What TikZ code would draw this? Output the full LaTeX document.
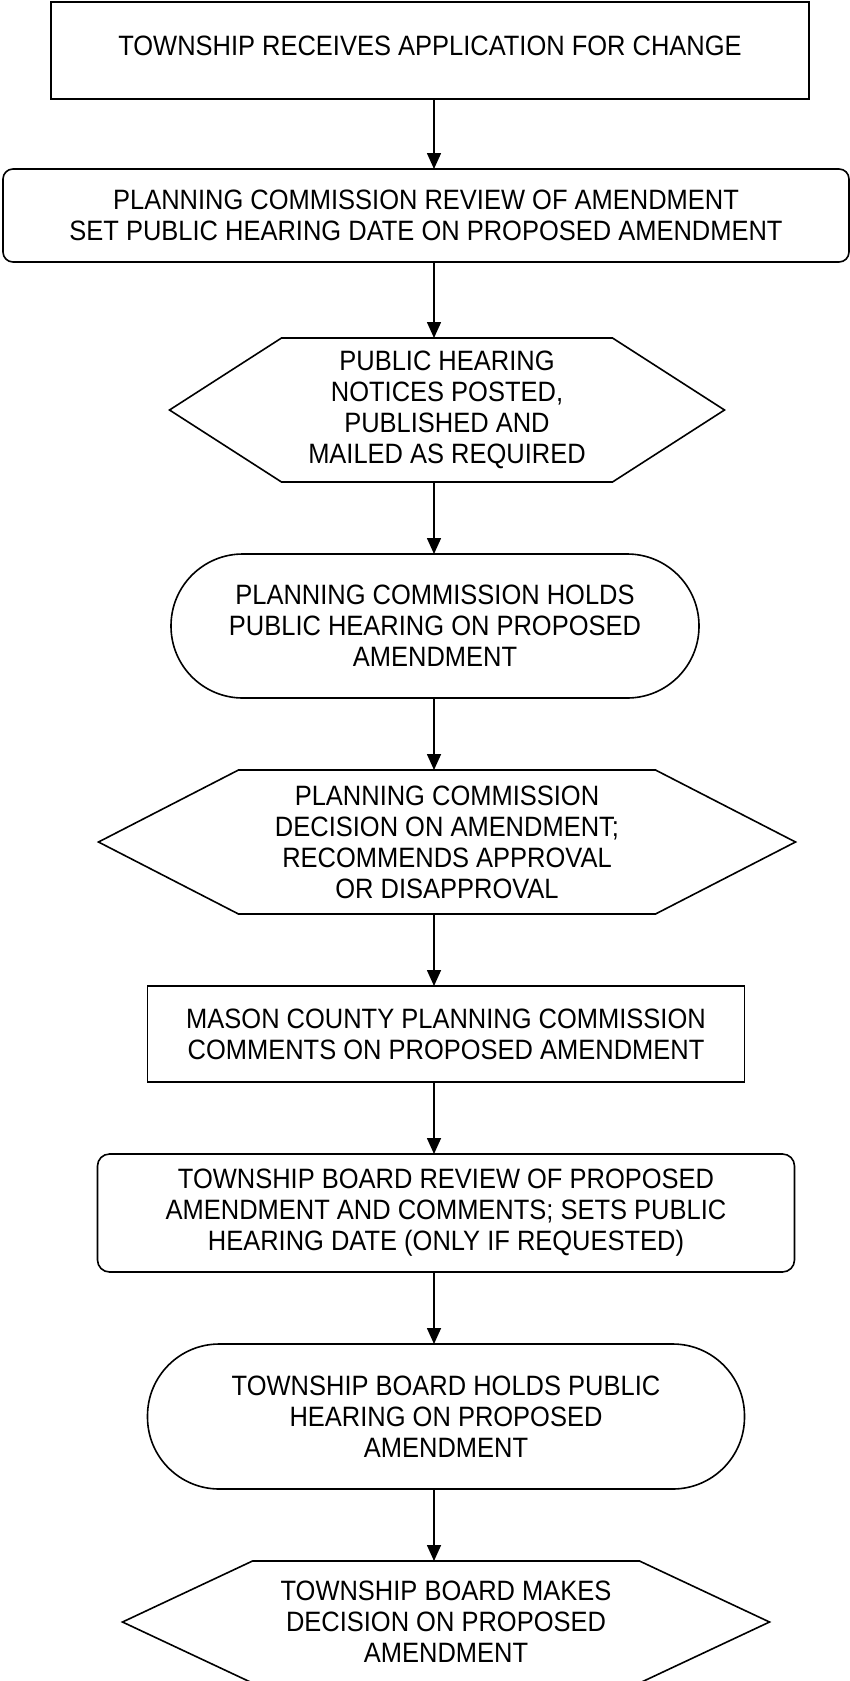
\documentclass[tikz,border=0pt]{standalone}
\usepackage{fontspec}
\setmainfont{Liberation Sans}[FakeStretch=0.91]
\usetikzlibrary{positioning,arrows.meta}

\begin{document}
\begin{tikzpicture}[
        every node/.style={align=center,outer sep=0pt,font=\fontsize{14}{15.5}\selectfont},
        box/.style={draw,line width=0.8pt},
        rbox/.style={box,rounded corners=5pt},
        stad/.style={box,rounded corners=35.9pt},
        hexa/.style={inner sep=0pt},
        arr/.style={line width=0.8pt,-{Triangle[length=8pt,width=7pt]}}]
        \useasboundingbox (0,0) rectangle (425pt,-840.5pt);
        \coordinate (spine) at (217pt,0);
        \node[box,minimum width=379pt,minimum height=48.5pt,text depth=4.5pt]
        (s0) at (215pt,-25.25pt) {TOWNSHIP RECEIVES APPLICATION FOR CHANGE};
        \node[rbox,minimum width=423pt,minimum height=46.5pt,below=35pt of s0,xshift=-2pt]
        (s1) {PLANNING COMMISSION REVIEW OF AMENDMENT\\SET PUBLIC HEARING DATE ON PROPOSED AMENDMENT};
        \node[hexa,minimum width=165.5pt,minimum height=72pt,below=38pt of s1,xshift=10.5pt]
        (s2) {PUBLIC HEARING\\NOTICES POSTED,\\PUBLISHED AND\\MAILED AS REQUIRED};
        \node[stad,minimum width=264pt,minimum height=72pt,below=36pt of s2,xshift=-6pt]
        (s3) {PLANNING COMMISSION HOLDS\\PUBLIC HEARING ON PROPOSED\\AMENDMENT};
        \node[hexa,minimum width=208.5pt,minimum height=72pt,below=36pt of s3,xshift=6pt]
        (s4) {PLANNING COMMISSION\\DECISION ON AMENDMENT;\\RECOMMENDS APPROVAL\\OR DISAPPROVAL};
        \node[box,minimum width=298.5pt,minimum height=48pt,below=36pt of s4,xshift=-0.5pt]
        (s5) {MASON COUNTY PLANNING COMMISSION\\COMMENTS ON PROPOSED AMENDMENT};
        \node[rbox,rounded corners=6pt,minimum width=348.5pt,minimum height=59pt,below=36pt of s5]
        (s6) {TOWNSHIP BOARD REVIEW OF PROPOSED\\AMENDMENT AND COMMENTS; SETS PUBLIC\\HEARING DATE (ONLY IF REQUESTED)};
        \node[stad,minimum width=298.5pt,minimum height=72.5pt,below=36pt of s6]
        (s7) {TOWNSHIP BOARD HOLDS PUBLIC\\HEARING ON PROPOSED\\AMENDMENT};
        \node[hexa,minimum width=193.5pt,minimum height=61pt,below=36pt of s7]
        (s8) {TOWNSHIP BOARD MAKES\\DECISION ON PROPOSED\\AMENDMENT};
        % hexagon outlines round the decision nodes
        \foreach \h/\d in {s2/56pt,s4/70pt,s8/65pt}
        \draw[line width=0.8pt] (\h.north west) -- (\h.north east) -- ([xshift=\d]\h.east)
        -- (\h.south east) -- (\h.south west) -- ([xshift=-\d]\h.west) -- cycle;
        \foreach \a/\b in {s0/s1,s1/s2,s2/s3,s3/s4,s4/s5,s5/s6,s6/s7,s7/s8}
        \draw[arr] (\a.south -| spine) -- (\b.north -| spine);
        \end{tikzpicture}
\end{document}
